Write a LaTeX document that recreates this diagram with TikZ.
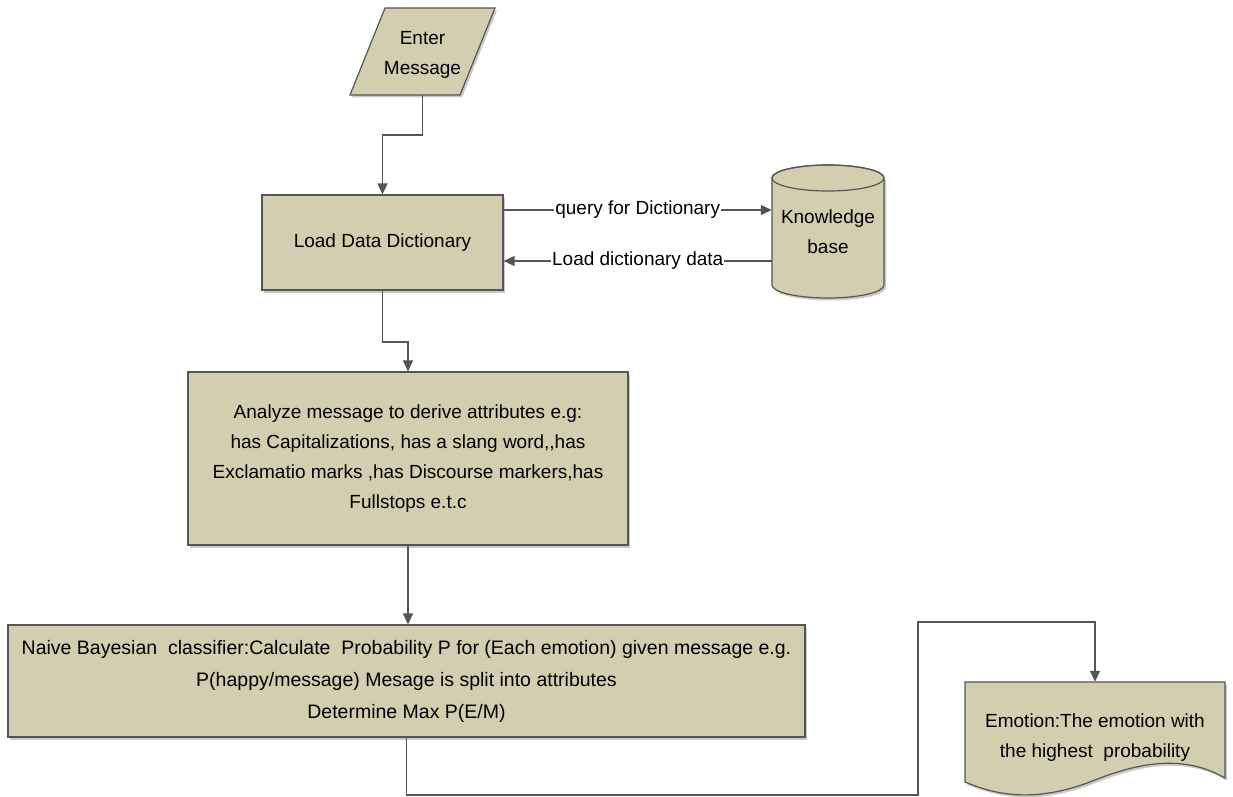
\documentclass[tikz,border=0pt]{standalone}
\usepackage{fontspec}
\setmainfont{Liberation Sans}
\usetikzlibrary{arrows.meta,shadows,calc}
\definecolor{boxfill}{RGB}{211,206,176}
\definecolor{edge}{RGB}{85,85,85}
\tikzset{
  shadowed/.style={drop shadow={opacity=0.35,shadow xshift=2pt,shadow yshift=-2.5pt,fill=black!60}},
  box/.style={draw=edge, fill=boxfill, line width=1.2pt, shadowed, align=center,
    font=\fontsize{19}{30}\selectfont, inner sep=0pt},
  shapefill/.style={draw=edge, fill=boxfill, line width=1.2pt, shadowed},
  txt/.style={align=center, font=\fontsize{19}{30}\selectfont, text=black, inner sep=0pt},
  conn/.style={draw=edge, line width=1.2pt},
  arr/.style={conn, -{Triangle[length=11pt,width=10pt]}},
  lbl/.style={fill=white, font=\fontsize{19}{22}\selectfont, inner sep=1pt},
}
\begin{document}
\begin{tikzpicture}[x=1pt,y=1pt]
\useasboundingbox (0,0) rectangle (1233,-797);
% Enter Message (parallelogram)
\path[shapefill] (385,-8) -- (495,-8) -- (460,-95) -- (350,-95) -- cycle;
\node[txt, minimum width=110pt, minimum height=81pt] (em) at (422.5,-54.5) {Enter\\Message};
% Load Data Dictionary
\node[box, minimum width=241pt, minimum height=95pt] (ldd) at (382.5,-242.5) {Load Data Dictionary};
% Knowledge base (cylinder)
\path[shapefill] (772,-178) -- (772,-285) arc (180:360:56 and 13) -- (884,-178) arc (0:180:56 and 13) -- cycle;
\draw[draw=edge, line width=1.2pt] (828,-178) ellipse (56 and 13);
\node[txt, minimum width=112pt, minimum height=133pt] (kb) at (828,-231.5) {Knowledge\\base};
% Analyze
\node[box, minimum width=440pt, minimum height=173pt] (an) at (408,-458.5) {Analyze message to derive attributes e.g:\\ has Capitalizations, has a slang word{,}{,}has\\Exclamatio marks ,has Discourse markers,has\\Fullstops e.t.c};
% Naive Bayesian
\node[box, minimum width=797pt, minimum height=112pt, font=\fontsize{19.5}{32}\selectfont] (nb) at (406.5,-681) {Naive Bayesian\ \ classifier:Calculate\ \ Probability P for (Each emotion) given message e.g.\\P(happy/message) Mesage is split into attributes\\Determine Max P(E/M)};
% Emotion (document)
\path[shapefill] (965,-682) -- (1225,-682) -- (1225,-778) .. controls (1190,-758) and (1150,-758) .. (1095,-780) .. controls (1040,-802) and (1000,-797) .. (965,-782) -- cycle;
\node[txt, minimum width=260pt, minimum height=112pt] (doc) at (1095,-738) {Emotion:The emotion with\\the highest\ \ probability};
% connectors
\coordinate (b1) at (400,-135);
\coordinate (b2) at (395,-342);
\coordinate (c1) at (918,-795);
\coordinate (c2) at (918,-622);
\draw[arr] (em.south) |- (b1) -| (ldd.north);
\draw[arr] ([yshift=32.5pt]ldd.east) -- node[lbl]{query for Dictionary} ([yshift=21.5pt]kb.west);
\draw[arr] ([yshift=-29.5pt]kb.west) -- node[lbl]{Load dictionary data} ([yshift=-18.5pt]ldd.east);
\draw[arr] (ldd.south) |- (b2) -| (an.north);
\draw[arr] (an.south) -- (an.south |- nb.north);
\draw[arr] (nb.south) |- (c1) -- (c2) -| (doc.north);
\end{tikzpicture}
\end{document}
